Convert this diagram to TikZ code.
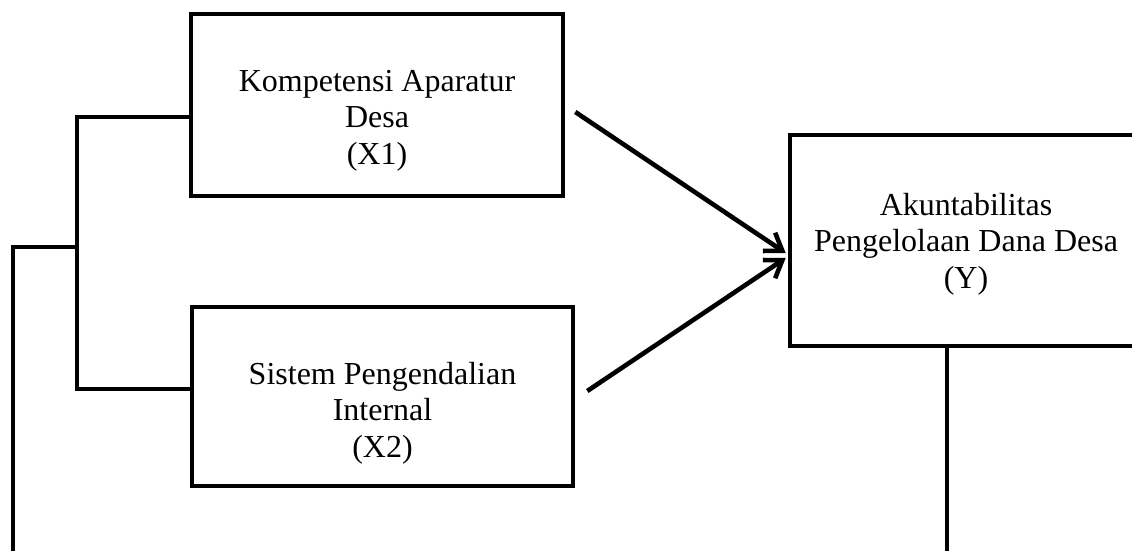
\documentclass[tikz,border=0pt]{standalone}
\usepackage{fontspec}
\setmainfont{Liberation Serif}
\usetikzlibrary{arrows.meta}
\begin{document}
\begin{tikzpicture}[x=0.5pt,y=-0.5pt,
  box/.style={draw=black,line width=2.3pt,inner sep=0pt,rectangle},
  lbl/.style={inner sep=0pt,align=center,font=\fontsize{16}{18.25}\selectfont},
  conn/.style={draw=black,line width=2.3pt},
  arr/.style={draw=black,line width=2.3pt,-{Straight Barb[length=8pt,width=11pt]}}]
\useasboundingbox (0,0) rectangle (1132,551);
\clip (0,0) rectangle (1132,551);
% boxes
\node[box,minimum width=186pt,minimum height=91pt] (x1) at (377,105) {};
\node[box,minimum width=190.5pt,minimum height=89.5pt] (x2) at (382.5,396.5) {};
\node[box,minimum width=176pt,minimum height=105.5pt] (y) at (966,240.5) {};
% labels
\node[lbl] (x1t) at (377,120.7) {\strut Kompetensi Aparatur\\Desa\\(X1)\strut};
\node[lbl] (x2t) at (382.5,413.7) {\strut Sistem Pengendalian\\Internal\\(X2)\strut};
\node[lbl] (yt) at (966,244.7) {\strut Akuntabilitas\\Pengelolaan Dana Desa\\(Y)\strut};
% bracket on the left
\coordinate (b1) at (77,117);
\coordinate (b2) at (77,389);
\coordinate (j) at (77,247);
\coordinate (l0) at (13,247);
\coordinate (l1) at (13,560);
\coordinate (r1) at (947,560);
\draw[conn] (x1.west |- b1) -- (b1) -- (b2) -- (x2.west |- b2);
\draw[conn] (j) -- (l0) -- (l1);
\draw[conn] (y.south -| r1) -- (r1);
% arrows
\draw[arr] ([xshift=5pt,yshift=-3.5pt]x1.east) -- ([xshift=-1pt,yshift=-6.25pt]y.west);
\draw[arr] ([xshift=6pt,yshift=2.75pt]x2.east) -- ([xshift=-1pt,yshift=-8.75pt]y.west);
\end{tikzpicture}
\end{document}
